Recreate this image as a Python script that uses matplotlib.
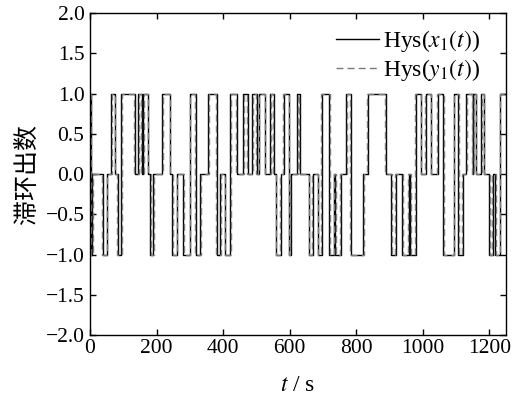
import numpy as np
import matplotlib.pyplot as plt

plt.rcParams['font.family'] = ['Liberation Serif', 'Noto Sans CJK SC']
plt.rcParams['mathtext.fontset'] = 'stix'

t_end = 1250

# switching times (s) of Hys(x1(t)) and the level it takes from then on
x1_times = [0, 3, 6, 39, 51, 64, 74, 84, 94, 135,
            145, 155, 160, 175, 180, 190, 217, 241, 247, 262,
            280, 300, 318, 331, 356, 381, 392, 407, 421, 441,
            461, 474, 487, 501, 507, 527, 542, 552, 558, 573,
            582, 597, 603, 622, 630, 657, 669, 684, 696, 718,
            734, 737, 754, 769, 784, 820, 834, 888, 904, 919,
            939, 959, 963, 979, 994, 1009, 1024, 1046, 1061, 1095,
            1107, 1120, 1130, 1150, 1152, 1161, 1175, 1185, 1200, 1210,
            1218, 1233]
y1_times = [0, 4, 8, 36, 50, 66, 76, 82, 96, 133,
            147, 153, 162, 173, 182, 192, 219, 239, 249, 260,
            282, 302, 316, 333, 358, 379, 394, 405, 423, 439,
            463, 472, 489, 499, 509, 525, 544, 550, 560, 571,
            580, 599, 601, 624, 628, 659, 667, 686, 694, 720,
            732, 739, 752, 771, 782, 822, 832, 886, 906, 917,
            941, 957, 965, 977, 996, 1007, 1026, 1044, 1063, 1093,
            1109, 1118, 1132, 1148, 1154, 1159, 1177, 1183, 1202, 1208,
            1220, 1231]
levels = [1, -1, 0, -1, 0, 1, 0, -1, 1, 0,
          1, 0, 1, 0, -1, 0, 1, 0, -1, 0,
          -1, 1, -1, 0, 1, -1, 0, -1, 1, 0,
          1, 0, 1, 0, 1, 0, 1, 0, -1, 0,
          1, -1, 0, 1, 0, -1, 0, -1, 1, -1,
          0, -1, 0, 1, -1, 0, 1, 0, -1, 0,
          -1, 0, -1, 1, 0, 1, 0, 1, -1, 1,
          -1, 0, 1, 0, 1, 0, 1, 0, -1, 0,
          -1, 1]

x_ticks = [0, 200, 400, 600, 800, 1000, 1200]
y_ticks = [-2.0, -1.5, -1.0, -0.5, 0.0, 0.5, 1.0, 1.5, 2.0]


def main():
    fig = plt.figure(figsize=(5.16, 3.99), dpi=100)
    ax = fig.add_axes([0.1744, 0.1604, 0.8062, 0.807])

    ax.step(x1_times + [t_end], levels + [levels[-1]], where='post',
            color='black', lw=1.0, label=r'Hys($x_1(t)$)')
    ax.step(y1_times + [t_end], levels + [levels[-1]], where='post',
            color='#7a7a7a', lw=1.0, ls=(0, (5, 3)), label=r'Hys($y_1(t)$)')

    ax.set_xlim(0, t_end)
    ax.set_ylim(-2, 2)
    ax.set_xticks(x_ticks)
    ax.set_yticks(y_ticks)
    ax.set_yticklabels([f"{v:.1f}".replace('-', '\u2212') for v in y_ticks])
    ax.tick_params(direction='in', length=4.5, width=1, top=True, right=True,
                   labelsize=15.5)
    ax.tick_params(axis='x', pad=3)
    ax.tick_params(axis='y', pad=4)
    for spine in ax.spines.values():
        spine.set_linewidth(1.0)

    ax.set_xlabel(r'$t$ / s', fontsize=17, labelpad=12)
    ax.set_ylabel('滞环出数', fontsize=18, family=['Noto Sans CJK SC'], labelpad=4)

    ax.legend(loc='upper right', bbox_to_anchor=(0.974, 1.0), frameon=False,
              fontsize=17, handlelength=1.85, handletextpad=0.15,
              labelspacing=0.12, borderaxespad=0.25)

    fig.savefig('out.png', dpi=100)


if __name__ == "__main__":
    main()
